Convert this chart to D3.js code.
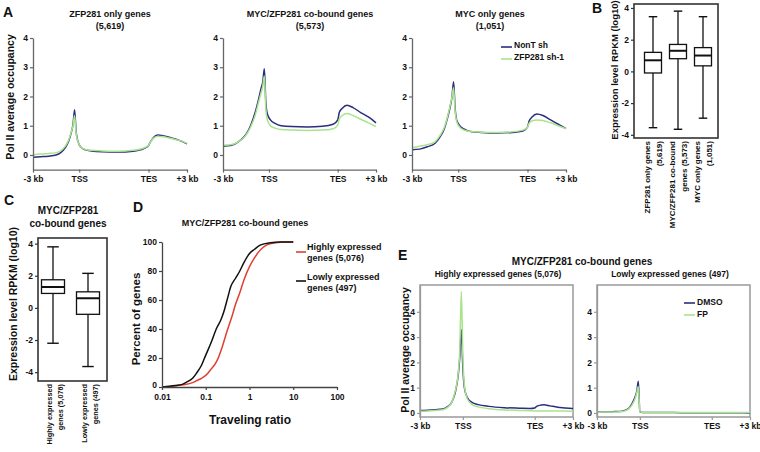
<!DOCTYPE html>
<html>
<head>
<meta charset="utf-8">
<script src="https://cdn.jsdelivr.net/npm/d3@7"></script>
<style>
  body { margin: 0; background: #fff; }
  text { font-family: "Liberation Sans", Arial, sans-serif; font-weight: bold; fill: #111; }
</style>
</head>
<body>
<script>
const [W, H] = [760, 452];
const navy = "#2b2d7e", green = "#a9e48c", red = "#e0402f";

// metagene profile bins: -3 kb = 0, TSS ~27, TES ~76, +3 kb = 100
const profPos = [0,5,10,15,18,21,23,25,26,27,28,29,31,34,38,45,55,65,72,75,76,78,81,85,90,95,100];
const profLabels = ["-3 kb", "TSS", "TES", "+3 kb"];
const aTickPos = [0, 30, 75, 100];
const eTickPos = [0, 28, 75, 100];

// A: Pol II average occupancy, NonT sh (blue) vs ZFP281 sh-1 (green)
const a1Blue  = [-0.08,-0.06,-0.04,0.0,0.08,0.25,0.45,0.8,1.05,1.55,0.8,0.5,0.27,0.18,0.14,0.11,0.1,0.13,0.22,0.32,0.42,0.58,0.68,0.65,0.58,0.5,0.38];
const a1Green = [0.0,0.03,0.05,0.08,0.14,0.3,0.5,0.82,1.0,1.35,0.75,0.48,0.27,0.19,0.16,0.14,0.13,0.16,0.24,0.33,0.42,0.56,0.64,0.62,0.56,0.5,0.4];
const a2Blue  = [0.3,0.32,0.45,0.7,1.0,1.45,1.85,2.3,2.5,2.95,1.8,1.4,1.2,1.08,1.0,0.97,0.96,0.98,1.05,1.2,1.45,1.6,1.7,1.62,1.45,1.3,1.1];
const a2Green = [0.33,0.35,0.45,0.68,0.95,1.35,1.75,2.15,2.35,2.7,1.6,1.2,1.0,0.92,0.87,0.85,0.84,0.85,0.9,1.02,1.22,1.35,1.42,1.35,1.22,1.1,0.97];
const a3Blue  = [0.18,0.2,0.28,0.4,0.6,0.9,1.25,1.7,2.0,2.5,1.6,1.2,1.0,0.88,0.8,0.77,0.75,0.77,0.82,0.95,1.15,1.3,1.4,1.35,1.2,1.05,0.9];
const a3Green = [0.25,0.3,0.35,0.45,0.65,0.95,1.3,1.75,2.0,2.3,1.5,1.15,0.95,0.85,0.8,0.78,0.77,0.79,0.85,0.95,1.08,1.17,1.2,1.18,1.1,1.0,0.9];

// E: DMSO (blue) vs FP (green)
const e1Blue  = [0.1,0.11,0.13,0.16,0.25,0.45,0.8,1.5,2.2,3.3,1.8,1.0,0.6,0.42,0.33,0.26,0.21,0.19,0.18,0.2,0.25,0.3,0.32,0.28,0.23,0.2,0.17];
const e1Green = [0.07,0.08,0.1,0.13,0.22,0.45,0.85,1.6,2.5,4.8,2.3,1.1,0.55,0.33,0.24,0.17,0.12,0.1,0.09,0.08,0.08,0.08,0.08,0.08,0.08,0.08,0.07];
const e2Blue  = [0.04,0.04,0.05,0.06,0.1,0.2,0.38,0.65,0.85,1.25,0.06,0.03,0.02,0.02,0.02,0.02,0.01,0.01,0.01,0.01,0.01,0.01,0.01,0.01,0.01,0.01,0.0];
const e2Green = [0.03,0.04,0.04,0.05,0.08,0.17,0.33,0.58,0.8,1.05,0.05,0.03,0.02,0.02,0.02,0.02,0.02,0.02,0.02,0.02,0.02,0.02,0.02,0.02,0.02,0.02,0.02];

// B: expression level boxplots
const bCats  = ["ZFP281 only", "co-bound", "MYC only"];
const bLine1 = ["ZFP281 only genes", "MYC/ZFP281 co-bound", "MYC only genes"];
const bLine2 = ["(5,619)", "genes (5,573)", "(1,051)"];
const bMin = [-3.55, -3.65, -2.95], bQ1 = [-0.1, 0.8, 0.35], bMed = [0.7, 1.3, 1.0], bQ3 = [1.2, 1.7, 1.5], bMax = [3.45, 3.8, 3.45];

// C: co-bound genes split by expression
const cCats  = ["high", "low"];
const cLine1 = ["Highly expressed", "Lowly expressed"];
const cLine2 = ["genes (5,076)", "genes (497)"];
const cMin = [-2.2, -3.65], cQ1 = [0.9, -0.4], cMed = [1.3, 0.6], cQ3 = [1.75, 1.0], cMax = [3.8, 2.15];

// D: cumulative traveling ratio
const dLowX  = [0.01,0.015,0.02,0.03,0.04,0.05,0.063,0.08,0.1,0.13,0.18,0.22,0.26,0.32,0.37,0.48,0.6,0.75,1,1.3,1.8,3,5,10];
const dLowY  = [0,0.5,1,2,4,6,10,15,22,30,41,46,52,62,69,75,80,86,92,95,98,99.5,100,100];
const dHighX = [0.01,0.015,0.02,0.03,0.05,0.063,0.08,0.1,0.13,0.18,0.24,0.31,0.4,0.48,0.6,0.75,1,1.3,1.6,2,2.5,4,6,10];
const dHighY = [0,0.3,0.7,1.5,3,4.5,6,8,12,18,28,39,49,57,65,74,83,89,93,96,98,99.5,100,100];
const dTicksX = [0.01, 0.1, 1, 10, 100];
const dTicksY = [0, 20, 40, 60, 80, 100];

const svg = d3.select("body").append("svg")
  .attr("width", W)
  .attr("height", H);

function txt(x, y, s, size, anchor = "middle", rot = 0) {
  const t = svg.append("text")
    .attr("x", x).attr("y", y)
    .attr("dy", "0.35em")
    .attr("font-size", size)
    .attr("text-anchor", anchor)
    .text(s);
  if (rot) t.attr("transform", `rotate(${rot},${x},${y})`);
  return t;
}

function styleAxis(g, fs, col = "#555") {
  g.attr("font-family", null).attr("font-size", fs);
  g.select(".domain").attr("stroke", col).attr("stroke-width", 1.3);
  g.selectAll(".tick line").attr("stroke", col).attr("stroke-width", 1.2);
  g.selectAll(".tick text").attr("fill", "#111");
}

// metagene profile panel (A and E)
function profile(o) {
  const x = d3.scaleLinear().domain([0, 100]).range([o.x0, o.x1]);
  const y = d3.scaleLinear().domain(o.yDom).range([o.yBot, o.yTop]);
  const g = svg.append("g");
  if (o.frame) {
    g.append("rect")
      .attr("x", o.x0).attr("y", o.yTop)
      .attr("width", o.x1 - o.x0).attr("height", o.yBot - o.yTop)
      .attr("fill", "none").attr("stroke", "#999").attr("stroke-width", 1.5);
  }
  const line = d3.line()
    .x((d, i) => x(profPos[i]))
    .y(d => y(d))
    .curve(d3.curveMonotoneX);
  o.series.forEach(s => {
    g.append("path")
      .attr("d", line(s.v))
      .attr("fill", "none")
      .attr("stroke", s.c)
      .attr("stroke-width", 1.5);
  });
  const ya = g.append("g")
    .attr("transform", `translate(${o.x0},0)`)
    .call(d3.axisLeft(y).tickValues([0, 1, 2, 3, 4]).tickFormat(d => String(d)).tickSize(3).tickSizeOuter(0).tickPadding(2));
  styleAxis(ya, 8.5, o.frame ? "#999" : "#666");
  const xa = g.append("g")
    .attr("transform", `translate(0,${o.yBot})`)
    .call(d3.axisBottom(x).tickValues(o.ticks).tickFormat((d, i) => profLabels[i]).tickSize(3).tickSizeOuter(0).tickPadding(3));
  styleAxis(xa, 8.5, o.frame ? "#999" : "#666");
  if (o.frame) xa.select(".domain").remove();
}

// boxplot panel (B and C)
function boxes(o) {
  const y = d3.scaleLinear().domain(o.yDom).range([o.yBot, o.yTop]);
  const x = d3.scalePoint().domain(o.cats).range(o.cx);
  const g = svg.append("g");
  g.append("rect")
    .attr("x", o.x0).attr("y", o.yTop)
    .attr("width", o.x1 - o.x0).attr("height", o.yBot - o.yTop)
    .attr("fill", "none").attr("stroke", "#333").attr("stroke-width", 1.6);
  const hw = o.bw / 2;
  const b = g.selectAll("g.box").data(o.cats).join("g").attr("class", "box");
  b.append("line")
    .attr("x1", d => x(d)).attr("x2", d => x(d))
    .attr("y1", (d, i) => y(o.max[i])).attr("y2", (d, i) => y(o.min[i]))
    .attr("stroke", "#111").attr("stroke-width", 1.3);
  [o.max, o.min].forEach(arr => {
    b.append("line")
      .attr("x1", d => x(d) - hw / 2).attr("x2", d => x(d) + hw / 2)
      .attr("y1", (d, i) => y(arr[i])).attr("y2", (d, i) => y(arr[i]))
      .attr("stroke", "#111").attr("stroke-width", 1.4);
  });
  b.append("rect")
    .attr("x", d => x(d) - hw).attr("width", o.bw)
    .attr("y", (d, i) => y(o.q3[i])).attr("height", (d, i) => y(o.q1[i]) - y(o.q3[i]))
    .attr("fill", "#fff").attr("stroke", "#111").attr("stroke-width", 1.3);
  b.append("line")
    .attr("x1", d => x(d) - hw).attr("x2", d => x(d) + hw)
    .attr("y1", (d, i) => y(o.med[i])).attr("y2", (d, i) => y(o.med[i]))
    .attr("stroke", "#111").attr("stroke-width", 2);
  const ya = g.append("g")
    .attr("transform", `translate(${o.x0},0)`)
    .call(d3.axisLeft(y).tickValues([-4, -2, 0, 2, 4]).tickFormat(d => String(d)).tickSize(3).tickSizeOuter(0).tickPadding(2));
  styleAxis(ya, 8.5, "#333");
  ya.select(".domain").remove();
  o.cats.forEach((c, i) => {
    txt(x(c) + o.lx - o.ls / 2, o.yBot + 3, o.l1[i], o.lfs, "end", -90);
    txt(x(c) + o.lx + o.ls / 2, o.yBot + 3, o.l2[i], o.lfs, "end", -90);
  });
}

// ---------- panel A ----------
txt(3, 12, "A", 14, "start");
txt(10, 97, "Pol II average occupancy", 10.5, "middle", -90);
const aPanels = [
  { x0: 33, x1: 187, t1: "ZFP281 only genes", t2: "(5,619)", tc: 110, b: a1Blue, gr: a1Green },
  { x0: 223, x1: 376, t1: "MYC/ZFP281 co-bound genes", t2: "(5,573)", tc: 310, b: a2Blue, gr: a2Green },
  { x0: 412, x1: 566, t1: "MYC only genes", t2: "(1,051)", tc: 490, b: a3Blue, gr: a3Green }
];
aPanels.forEach(p => {
  txt(p.tc, 14, p.t1, 9);
  txt(p.tc, 25.5, p.t2, 9);
  profile({ x0: p.x0, x1: p.x1, yTop: 38, yBot: 169.6, yDom: [-0.5, 4], ticks: aTickPos,
    series: [{ v: p.b, c: navy }, { v: p.gr, c: green }] });
});
// legend A
svg.append("line").attr("x1", 501).attr("x2", 512).attr("y1", 47).attr("y2", 47).attr("stroke", navy).attr("stroke-width", 1.6);
svg.append("line").attr("x1", 501).attr("x2", 512).attr("y1", 59).attr("y2", 59).attr("stroke", green).attr("stroke-width", 1.6);
txt(514, 45, "NonT sh", 8.5, "start");
txt(514, 57, "ZFP281 sh-1", 8.5, "start");

// ---------- panel B ----------
txt(592, 8, "B", 14, "start");
txt(615, 70, "Expression level RPKM (log10)", 9.5, "middle", -90);
boxes({ x0: 634, x1: 718, yTop: 4, yBot: 138, yDom: [-4.2, 4.25], cats: bCats, cx: [653, 703], bw: 17,
  min: bMin, q1: bQ1, med: bMed, q3: bQ3, max: bMax, l1: bLine1, l2: bLine2, lx: 0, ls: 12, lfs: 8 });

// ---------- panel C ----------
txt(4, 200, "C", 14, "start");
txt(68, 210, "MYC/ZFP281", 10);
txt(68, 223, "co-bound genes", 10);
txt(13, 304, "Expression level RPKM (log10)", 10.5, "middle", -90);
boxes({ x0: 38, x1: 107, yTop: 238, yBot: 381, yDom: [-4.55, 4.35], cats: cCats, cx: [53, 88], bw: 23,
  min: cMin, q1: cQ1, med: cMed, q3: cQ3, max: cMax, l1: cLine1, l2: cLine2, lx: 2, ls: 11, lfs: 7.3 });

// ---------- panel D ----------
txt(133, 207, "D", 14, "start");
txt(245, 223, "MYC/ZFP281 co-bound genes", 9);
const xD = d3.scaleLog().domain([0.01, 100]).range([162, 337]);
const yD = d3.scaleLinear().domain([0, 100]).range([387, 242]);
const cdf = d3.line().x(d => xD(d[0])).y(d => yD(d[1])).curve(d3.curveMonotoneX);
svg.append("path").attr("d", cdf(d3.zip(dHighX, dHighY))).attr("fill", "none").attr("stroke", red).attr("stroke-width", 1.5);
svg.append("path").attr("d", cdf(d3.zip(dLowX, dLowY))).attr("fill", "none").attr("stroke", "#111").attr("stroke-width", 1.5);
const dya = svg.append("g").attr("transform", "translate(162,0)")
  .call(d3.axisLeft(yD).tickValues(dTicksY).tickSize(3).tickSizeOuter(0).tickPadding(2));
styleAxis(dya, 8.5, "#444");
dya.selectAll(".tick text").attr("dy", (d, i) => i === 0 ? "0.1em" : "0.32em");
const dxa = svg.append("g").attr("transform", "translate(0,387)")
  .call(d3.axisBottom(xD).tickValues(dTicksX).tickFormat(d => String(d)).tickSize(3).tickSizeOuter(0).tickPadding(4));
styleAxis(dxa, 8.5, "#444");
txt(250, 420, "Traveling ratio", 12);
txt(136, 319, "Percent of genes", 11.5, "middle", -90);
svg.append("line").attr("x1", 296).attr("x2", 306).attr("y1", 252).attr("y2", 252).attr("stroke", red).attr("stroke-width", 1.6);
svg.append("line").attr("x1", 296).attr("x2", 306).attr("y1", 281).attr("y2", 281).attr("stroke", "#111").attr("stroke-width", 1.6);
txt(307, 247, "Highly expressed", 9, "start");
txt(307, 258, "genes (5,076)", 9, "start");
txt(307, 277, "Lowly expressed", 9, "start");
txt(307, 288, "genes (497)", 9, "start");

// ---------- panel E ----------
txt(398, 255, "E", 14, "start");
txt(582, 261, "MYC/ZFP281 co-bound genes", 10);
txt(405, 350, "Pol II average occupancy", 10.5, "middle", -90);
const ePanels = [
  { x0: 420, x1: 573, t: "Highly expressed genes (5,076)", tc: 498, b: e1Blue, gr: e1Green },
  { x0: 597, x1: 750, t: "Lowly expressed genes (497)", tc: 670, b: e2Blue, gr: e2Green }
];
ePanels.forEach(p => {
  txt(p.tc, 274, p.t, 8.5);
  profile({ x0: p.x0, x1: p.x1, yTop: 285, yBot: 417, yDom: [-0.16, 5.06], ticks: eTickPos, frame: true,
    series: [{ v: p.b, c: navy }, { v: p.gr, c: green }] });
});
svg.append("line").attr("x1", 684).attr("x2", 695).attr("y1", 303).attr("y2", 303).attr("stroke", navy).attr("stroke-width", 1.6);
svg.append("line").attr("x1", 684).attr("x2", 695).attr("y1", 315).attr("y2", 315).attr("stroke", green).attr("stroke-width", 1.6);
txt(697, 302, "DMSO", 8.5, "start");
txt(697, 314, "FP", 8.5, "start");
</script>
</body>
</html>
